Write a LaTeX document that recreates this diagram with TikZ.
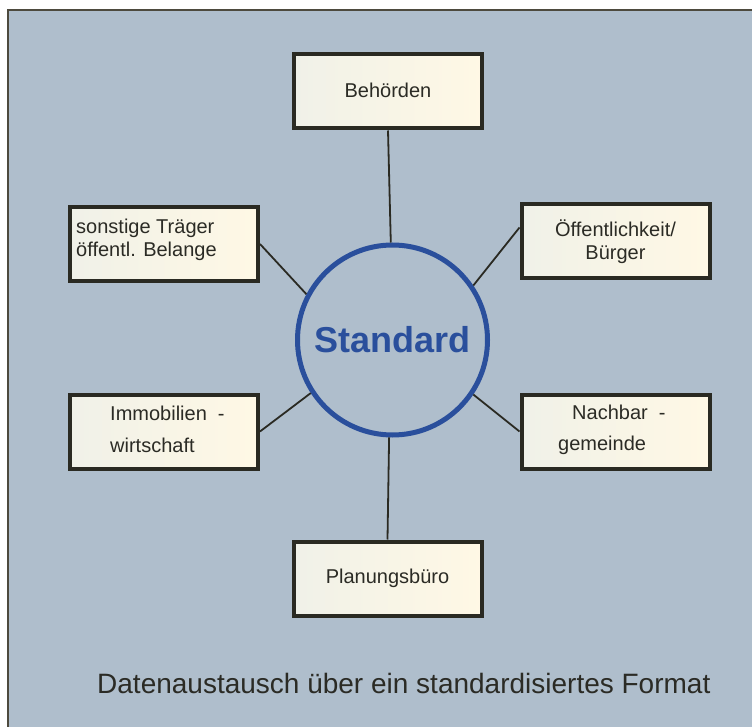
\documentclass[tikz,border=0pt]{standalone}
\usepackage{fontspec}
\setmainfont{Liberation Sans}
\definecolor{bgblue}{HTML}{AFBECC}
\definecolor{framec}{HTML}{4D4A3E}
\definecolor{boxline}{HTML}{2A2A22}
\definecolor{txt}{HTML}{2B2B25}
\definecolor{stdblue}{HTML}{2A4F9C}
\definecolor{creamL}{HTML}{F0F1E8}
\definecolor{creamR}{HTML}{FFF8E5}
\tikzset{
  partbox/.style={draw=boxline, line width=4pt, left color=creamL, right color=creamR,
    minimum width=188pt, minimum height=74pt, inner sep=0pt},
  boxtext/.style={text=txt, font=\fontsize{20}{24}\selectfont, inner sep=0pt},
  link/.style={draw=boxline, line width=1.8pt},
  hub/.style={circle, draw=stdblue, line width=5pt, minimum size=190pt, inner sep=0pt,
    text=stdblue, font=\fontsize{36}{40}\selectfont\bfseries}
}
\begin{document}
\begin{tikzpicture}[x=1pt, y=-1pt]
\useasboundingbox (0,0) rectangle (752,727);
\fill[white] (0,0) rectangle (752,727);
\fill[bgblue] (8,10) rectangle (752,727);
\draw[framec, line width=2pt] (8,727) -- (8,10) -- (752,10);

\node[hub] (std) at (392.5,340) {Standard};

\node[partbox, align=center, boxtext] (beh) at (388,91.5) {\raisebox{3pt}{Behörden}};
\node[partbox] (son) at (164,244) {};
\node[partbox, align=center, boxtext] (oef) at (615.5,241.5) {Öffentlichkeit/\\[-1pt]Bürger};
\node[partbox] (imm) at (164,431.5) {};
\node[partbox] (nach) at (615.5,431.5) {};
\node[partbox, align=center, boxtext] (plan) at (387.5,578.5) {Planungsbüro};

\node[boxtext, anchor=west, align=left] (sontxt) at (76,240) {sonstige Träger\\[-1pt]öffentl. Belange};
\node[boxtext, anchor=west] (immtxt1) at (110,413) {Immobilien\ \ -};
\node[boxtext, anchor=west] (immtxt2) at (110,445) {wirtschaft};
\node[boxtext, anchor=west] (nachtxt1) at (572,412) {Nachbar\ \ -};
\node[boxtext, anchor=west] (nachtxt2) at (558,445) {gemeinde};

\draw[link] (beh.south) -- (std.91);
\draw[link] (son.east) -- (std.152);
\draw[link] ([yshift=14pt]oef.west) -- (std.34);
\draw[link] (imm.east) -- (std.213);
\draw[link] (nach.west) -- (std.326);
\draw[link] (plan.north) -- (std.268);

\node[text=txt, font=\fontsize{28}{32}\selectfont, anchor=base west, inner sep=0pt] (caption) at (97,693) {Datenaustausch über ein standardisiertes Format};
\end{tikzpicture}
\end{document}
